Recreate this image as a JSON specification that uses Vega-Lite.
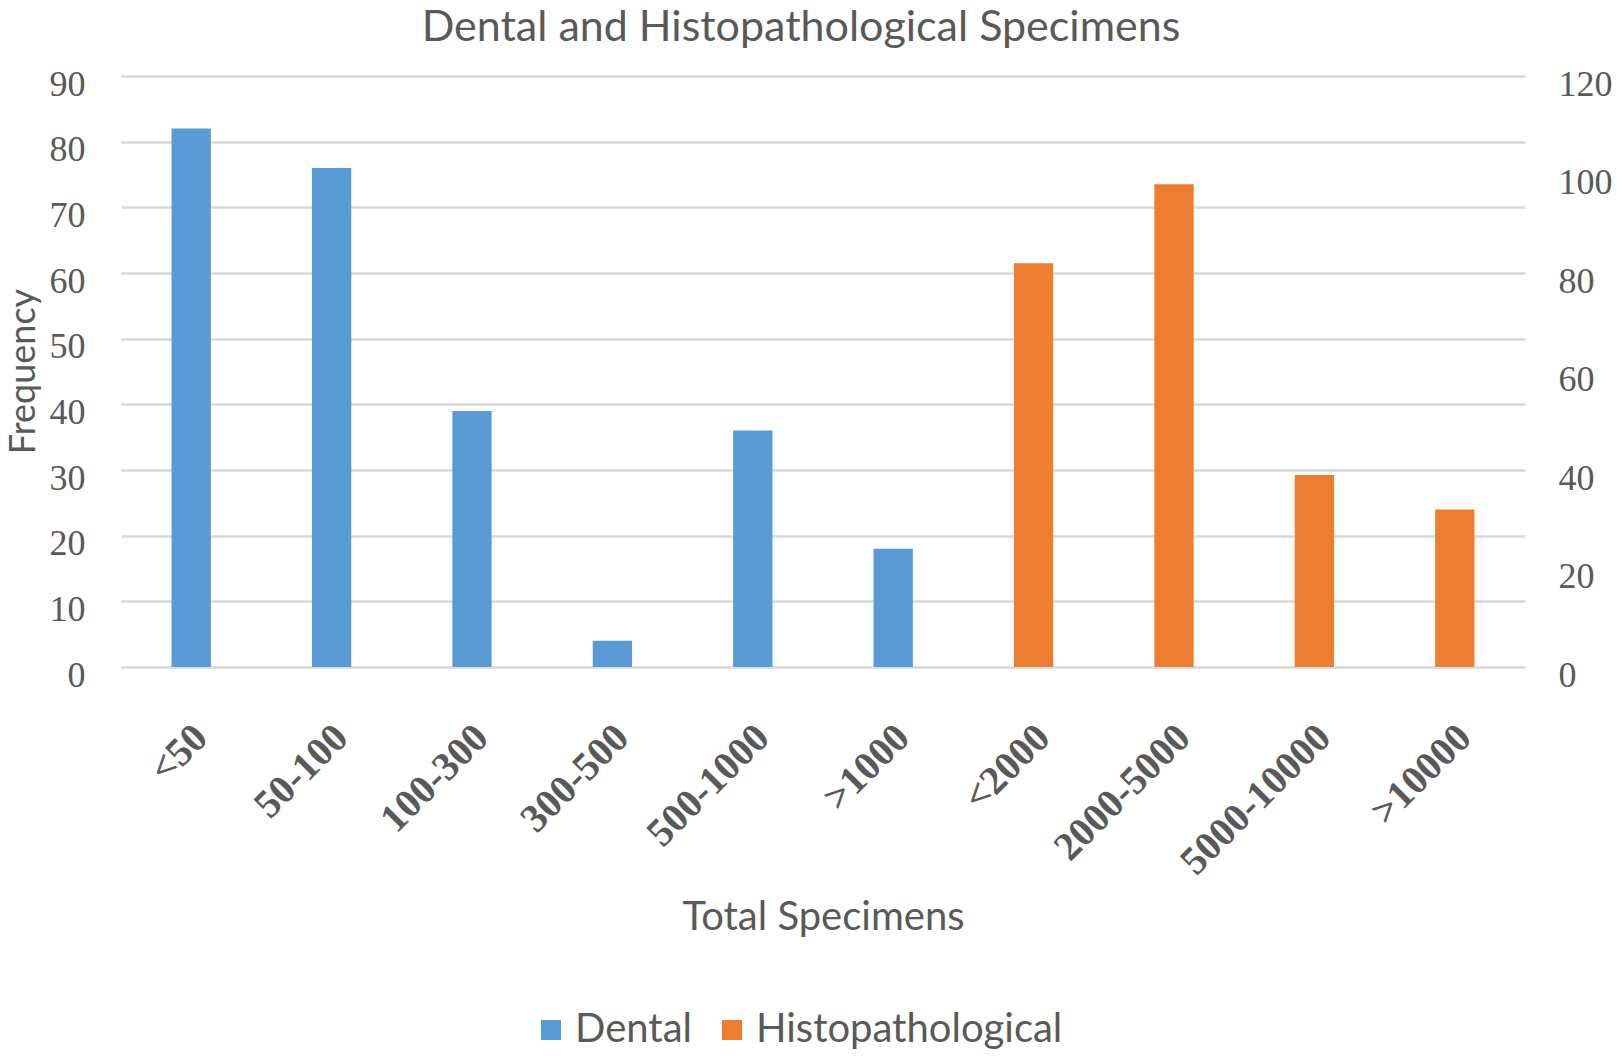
{
  "$schema": "https://vega.github.io/schema/vega-lite/v6.json",
  "width": 1404,
  "height": 591,
  "autosize": {"type": "none"},
  "padding": {"left": 121, "top": 76, "right": 93, "bottom": 389},
  "background": "white",
  "title": {
    "text": "Dental and Histopathological Specimens",
    "font": "Lato",
    "fontSize": 43,
    "fontWeight": "normal",
    "color": "#595959",
    "offset": 16,
    "dx": -22
  },
  "data": {
    "values": [
      {"range": "<50", "dental": 82, "histo": null},
      {"range": "50-100", "dental": 76, "histo": null},
      {"range": "100-300", "dental": 39, "histo": null},
      {"range": "300-500", "dental": 4, "histo": null},
      {"range": "500-1000", "dental": 36, "histo": null},
      {"range": ">1000", "dental": 18, "histo": null},
      {"range": "<2000", "dental": null, "histo": 82},
      {"range": "2000-5000", "dental": null, "histo": 98},
      {"range": "5000-10000", "dental": null, "histo": 39},
      {"range": ">10000", "dental": null, "histo": 32}
    ]
  },
  "encoding": {
    "x": {
      "field": "range",
      "type": "nominal",
      "sort": null,
      "scale": {"paddingInner": 0.72, "paddingOuter": 0.36},
      "axis": {
        "title": "Total Specimens",
        "titleFont": "Lato",
        "titleFontSize": 40,
        "titleFontWeight": "normal",
        "titleColor": "#595959",
        "titleY": 250,
        "titleBaseline": "middle",
        "labelFont": "Liberation Serif",
        "labelFontSize": 40,
        "labelFontWeight": "bold",
        "labelColor": "#595959",
        "labelAngle": -45,
        "labelAlign": "right",
        "labelBaseline": "middle",
        "labelPadding": 64,
        "labelOffset": 10,
        "labelLimit": 0,
        "labelOverlap": false,
        "ticks": false,
        "domain": false,
        "grid": false
      }
    }
  },
  "layer": [
    {
      "mark": {"type": "bar"},
      "encoding": {
        "y": {
          "field": "dental",
          "type": "quantitative",
          "scale": {"domain": [0, 90]},
          "axis": {
            "title": "Frequency",
            "titleFont": "Lato",
            "titleFontSize": 36,
            "titleFontWeight": "normal",
            "titleColor": "#595959",
            "titleX": -98,
            "titleY": 295,
            "titleBaseline": "middle",
            "titleAngle": -90,
            "values": [0, 10, 20, 30, 40, 50, 60, 70, 80, 90],
            "labelFont": "Liberation Serif",
            "labelFontSize": 36,
            "labelColor": "#595959",
            "labelPadding": 36,
            "labelOffset": 8,
            "ticks": false,
            "domain": false,
            "grid": true,
            "gridColor": "#D9D9D9",
            "gridWidth": 2.5
          }
        },
        "color": {
          "datum": "Dental",
          "scale": {"domain": ["Dental", "Histopathological"], "range": ["#5B9BD5", "#ED7D31"]},
          "legend": {
            "title": null,
            "orient": "none",
            "direction": "horizontal",
            "legendX": 410,
            "legendY": 934,
            "symbolType": "square",
            "symbolSize": 400,
            "symbolStrokeWidth": 0,
            "labelFont": "Lato",
            "labelFontSize": 40,
            "labelColor": "#595959",
            "labelLimit": 0,
            "columnPadding": 20,
            "labelOffset": 4
          }
        }
      }
    },
    {
      "mark": {"type": "bar"},
      "encoding": {
        "y": {
          "field": "histo",
          "type": "quantitative",
          "scale": {"domain": [0, 120]},
          "axis": {
            "orient": "right",
            "title": null,
            "values": [0, 20, 40, 60, 80, 100, 120],
            "labelFont": "Liberation Serif",
            "labelFontSize": 36,
            "labelColor": "#595959",
            "labelPadding": 33,
            "labelOffset": 8,
            "ticks": false,
            "domain": false,
            "grid": false
          }
        },
        "color": {"datum": "Histopathological"}
      }
    }
  ],
  "resolve": {"scale": {"y": "independent"}},
  "config": {"view": {"stroke": null}}
}
